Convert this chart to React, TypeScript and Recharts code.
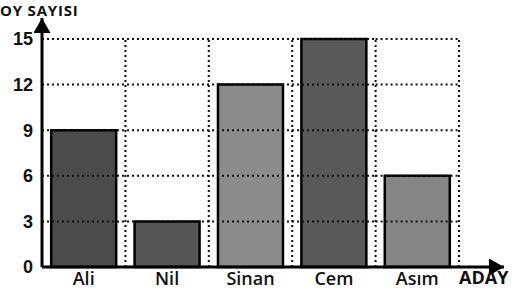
import * as React from "react";
import {
  BarChart,
  Bar,
  Cell,
  XAxis,
  YAxis,
  ReferenceLine,
} from "recharts";

// values
const candidates = ["Ali", "Nil", "Sinan", "Cem", "Asım"];
const votes = [9, 3, 12, 15, 6];
const barColors = ["#4b4b4b", "#555555", "#8c8c8c", "#595959", "#858585"];
const yTicks = [0, 3, 6, 9, 12, 15];
const yTitle = "OY SAYISI";
const xTitle = "ADAY";

const data = candidates.map((name, i) => ({ name, votes: votes[i] }));

const labelFont = '"Open Sans", "Liberation Sans", sans-serif';
const dotted = { stroke: "#111", strokeWidth: 2, strokeDasharray: "2 3" };

const first = candidates[0];
const last = candidates[candidates.length - 1];
const beforeLast = candidates[candidates.length - 2];

const App = () => {
  return (
    <div style={{ width: 512, height: 293 }}>
      <style>{"body{margin:0}"}</style>
      <BarChart
        width={512}
        height={293}
        data={data}
        margin={{ top: 18, right: 8, left: 0, bottom: 0 }}
        barCategoryGap="11%"
      >
        <defs>
          <marker
            id="arrowHead"
            markerUnits="userSpaceOnUse"
            markerWidth="16"
            markerHeight="18"
            refX="15"
            refY="8.5"
            orient="auto-start-reverse"
          >
            <path d="M0,0 L15,8.5 L0,17 Z" fill="#000" />
          </marker>
        </defs>
        <XAxis
          dataKey="name"
          height={26}
          padding={{ left: 0, right: 45 }}
          tickLine={false}
          tickSize={0}
          tickMargin={5}
          axisLine={{ stroke: "#000", strokeWidth: 3, markerEnd: "url(#arrowHead)" }}
          tick={{ fill: "#111", fontSize: 18, fontWeight: 600, fontFamily: labelFont }}
        />
        <YAxis
          width={42}
          domain={[0, 15]}
          ticks={yTicks}
          padding={{ top: 21, bottom: 0 }}
          tickLine={false}
          tickSize={0}
          tickMargin={9}
          axisLine={{ stroke: "#000", strokeWidth: 3, markerStart: "url(#arrowHead)" }}
          tick={{
            fill: "#111",
            fontSize: 18,
            fontWeight: 700,
            fontFamily: '"Liberation Sans", sans-serif',
          }}
        />
        <Bar dataKey="votes" stroke="#000" strokeWidth={2.5} isAnimationActive={false}>
          {data.map((d, i) => (
            <Cell key={d.name} fill={barColors[i]} />
          ))}
        </Bar>
        {/* grid drawn on top of the bars, like the original */}
        {yTicks
          .filter((t) => t > 0)
          .map((t) => (
            <ReferenceLine
              key={"ha" + t}
              position="start"
              segment={[
                { x: first, y: t },
                { x: last, y: t },
              ]}
              {...dotted}
            />
          ))}
        {yTicks
          .filter((t) => t > 0)
          .map((t) => (
            <ReferenceLine
              key={"hb" + t}
              position="end"
              segment={[
                { x: beforeLast, y: t },
                { x: last, y: t },
              ]}
              {...dotted}
            />
          ))}
        {candidates.map((c) => (
          <ReferenceLine
            key={"v" + c}
            position="end"
            segment={[
              { x: c, y: 0 },
              { x: c, y: 15 },
            ]}
            {...dotted}
          />
        ))}
        <text
          x={0}
          y={16}
          fill="#111"
          fontSize={15}
          fontWeight={700}
          letterSpacing={0.8}
          fontFamily={labelFont}
        >
          {yTitle}
        </text>
        <text
          x={459}
          y={284}
          fill="#111"
          fontSize={18}
          fontWeight={700}
          fontFamily={labelFont}
        >
          {xTitle}
        </text>
      </BarChart>
    </div>
  );
};

export default App;
